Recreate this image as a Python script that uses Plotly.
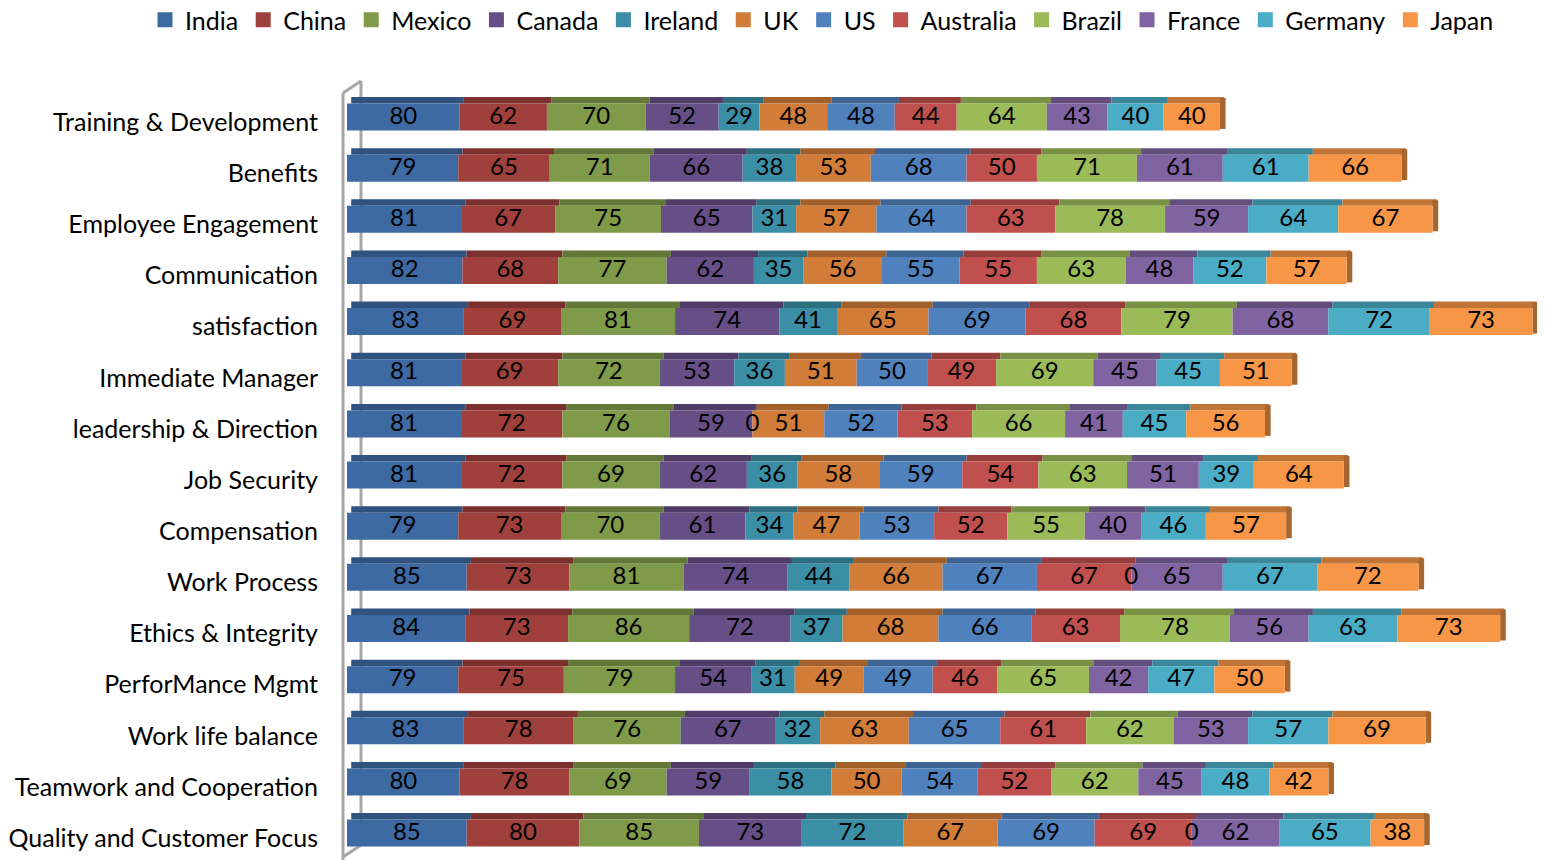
import numpy as np
import plotly.graph_objects as go

categories = ["Training & Development", "Benefits", "Employee Engagement", "Communication",
              "satisfaction", "Immediate Manager", "leadership & Direction", "Job Security",
              "Compensation", "Work Process", "Ethics & Integrity", "PerforMance Mgmt",
              "Work life balance", "Teamwork and Cooperation", "Quality and Customer Focus"]

series_names = ["India", "China", "Mexico", "Canada", "Ireland", "UK",
                "US", "Australia", "Brazil", "France", "Germany", "Japan"]

india = [80, 79, 81, 82, 83, 81, 81, 81, 79, 85, 84, 79, 83, 80, 85]
china = [62, 65, 67, 68, 69, 69, 72, 72, 73, 73, 73, 75, 78, 78, 80]
mexico = [70, 71, 75, 77, 81, 72, 76, 69, 70, 81, 86, 79, 76, 69, 85]
canada = [52, 66, 65, 62, 74, 53, 59, 62, 61, 74, 72, 54, 67, 59, 73]
ireland = [29, 38, 31, 35, 41, 36, 0, 36, 34, 44, 37, 31, 32, 58, 72]
uk = [48, 53, 57, 56, 65, 51, 51, 58, 47, 66, 68, 49, 63, 50, 67]
us = [48, 68, 64, 55, 69, 50, 52, 59, 53, 67, 66, 49, 65, 54, 69]
australia = [44, 50, 63, 55, 68, 49, 53, 54, 52, 67, 63, 46, 61, 52, 69]
brazil = [64, 71, 78, 63, 79, 69, 66, 63, 55, 0, 78, 65, 62, 62, 0]
france = [43, 61, 59, 48, 68, 45, 41, 51, 40, 65, 56, 42, 53, 45, 62]
germany = [40, 61, 64, 52, 72, 45, 45, 39, 46, 67, 63, 47, 57, 48, 65]
japan = [40, 66, 67, 57, 73, 51, 56, 64, 57, 72, 73, 50, 69, 42, 38]

series_values = [india, china, mexico, canada, ireland, uk,
                 us, australia, brazil, france, germany, japan]

colors = ["#3D6AA3", "#A0403D", "#7F9A48", "#664E87", "#3A8EA6", "#D17C38",
          "#4F81BD", "#C0504D", "#9BBB59", "#8064A2", "#4BACC6", "#F79646"]


def darken(hex_color, f):
    h = hex_color.lstrip("#")
    r, g, b = (int(h[i:i + 2], 16) for i in (0, 2, 4))
    return "#%02X%02X%02X" % (int(r * f), int(g * f), int(b * f))


FONT = "Lato"
W, H = 1545, 860
L, R, T, B = 347, 8, 91, 0
PW, PH = W - L - R, H - T - B
PX_PER_UNIT = 1.408
XMAX = PW / PX_PER_UNIT

# vertical geometry (in category units); row pitch ~51.15 px
PITCH = 51.15
FIRST_ROW_PX = 122.0
Y_TOP = -(FIRST_ROW_PX - T) / PITCH
Y_BOT = (H - B - FIRST_ROW_PX) / PITCH

pos = np.arange(len(categories))
vals = np.array(series_values, dtype=float)
bases = np.vstack([np.zeros(len(categories)), np.cumsum(vals, axis=0)[:-1]])
totals = vals.sum(axis=0)

FRONT_W = 27.0 / PITCH
FRONT_OFF = -5.0 / PITCH - FRONT_W / 2
TOP_W = 6.5 / PITCH
SHIFT = 3.0

fig = go.Figure()

# top faces (3D look)
for name, v, b, c in zip(series_names, vals, bases, colors):
    fig.add_trace(go.Bar(
        orientation="h", y=pos, x=v, base=b + SHIFT,
        offset=FRONT_OFF - TOP_W, width=TOP_W,
        marker=dict(color=darken(c, 0.78), line=dict(width=0)),
        showlegend=False, hoverinfo="skip"))

# right side face of the last segment
fig.add_trace(go.Bar(
    orientation="h", y=pos, x=[4.0] * len(categories), base=totals,
    offset=FRONT_OFF - TOP_W + 0.02, width=FRONT_W + TOP_W - 0.05,
    marker=dict(color=darken(colors[-1], 0.68), line=dict(width=0)),
    showlegend=False, hoverinfo="skip"))

# front faces
for name, v, b, c in zip(series_names, vals, bases, colors):
    fig.add_trace(go.Bar(
        orientation="h", y=pos, x=v, base=b, name=name,
        offset=FRONT_OFF, width=FRONT_W,
        marker=dict(color=c, line=dict(width=0)),
        showlegend=False))

# data labels
for name, v, b in zip(series_names, vals, bases):
    fig.add_trace(go.Scatter(
        x=b + v / 2, y=pos - 0.085, mode="text",
        text=[str(int(x)) for x in v], textposition="middle center",
        textfont=dict(family=FONT, size=24, color="black"),
        showlegend=False, hoverinfo="skip", cliponaxis=False))

# legend entries (square keys)
for name, c in zip(series_names, colors):
    fig.add_trace(go.Scatter(
        x=[None], y=[None], mode="markers", name=name,
        marker=dict(symbol="square", size=15, color=c)))


def px(x):
    return (x - L) / PW


def py(y):
    return (H - B - y) / PH


wall = "#A6A6A6"
shapes = [
    dict(type="line", xref="paper", yref="paper", x0=px(343), x1=px(343), y0=py(93), y1=py(860),
         line=dict(color=wall, width=3), layer="below"),
    dict(type="line", xref="paper", yref="paper", x0=px(361), x1=px(361), y0=py(81), y1=py(845),
         line=dict(color=wall, width=3), layer="below"),
    dict(type="line", xref="paper", yref="paper", x0=px(343), x1=px(361), y0=py(93), y1=py(81),
         line=dict(color=wall, width=3), layer="below"),
    dict(type="line", xref="paper", yref="paper", x0=px(343), x1=px(361), y0=py(857), y1=py(845),
         line=dict(color=wall, width=3), layer="below"),
]

fig.update_layout(
    width=W, height=H,
    margin=dict(l=L, r=R, t=T, b=B, autoexpand=False),
    paper_bgcolor="white", plot_bgcolor="white",
    barmode="overlay",
    font=dict(family=FONT, size=24, color="black"),
    shapes=shapes,
    legend=dict(orientation="h", x=px(145), xanchor="left", y=py(-3), yanchor="top",
                font=dict(family=FONT, size=25, color="black"),
                itemwidth=30, itemsizing="trace", traceorder="normal",
                bgcolor="rgba(0,0,0,0)"),
    xaxis=dict(range=[0, XMAX], visible=False, showgrid=False, zeroline=False),
    yaxis=dict(range=[Y_BOT, Y_TOP], tickmode="array", tickvals=pos, ticktext=categories,
               showgrid=False, zeroline=False, showline=False,
               ticks="", ticklabelstandoff=28,
               tickfont=dict(family=FONT, size=25, color="black")),
)

fig.write_html("out.html")
